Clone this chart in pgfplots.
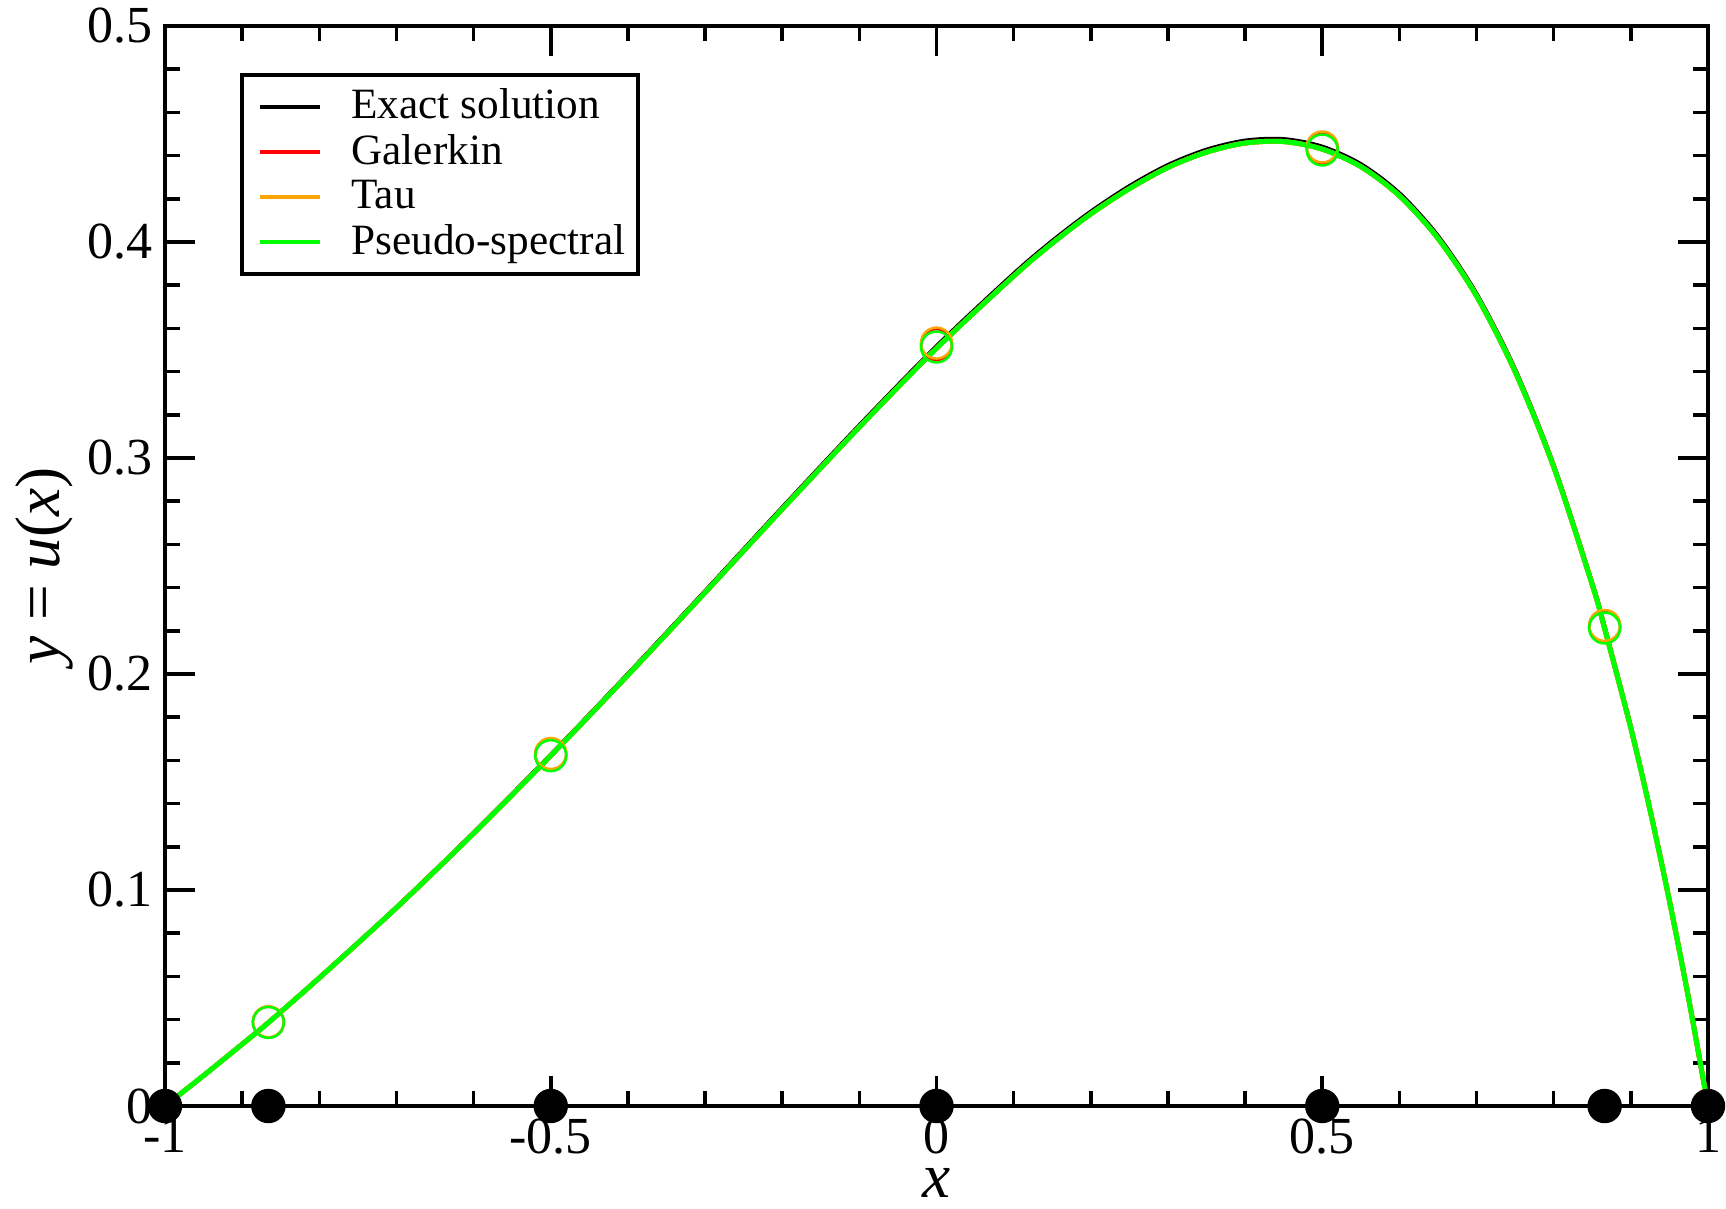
\documentclass[border=0pt]{standalone}
\usepackage{fontspec}
\setmainfont{Liberation Serif}
\usepackage{pgfplots}
\pgfplotsset{compat=1.18}
\usepackage{pgfplotstable}
\definecolor{xred}{RGB}{255,0,0}
\definecolor{xorange}{RGB}{255,165,0}
\definecolor{xgreen}{RGB}{0,255,0}

\pgfplotstableread{
x y
-1 0
-0.95 0.0141
-0.9 0.0287
-0.866 0.0387
-0.8 0.0594
-0.7 0.0920
-0.6 0.1265
-0.5 0.1626
-0.4 0.2000
-0.3 0.2383
-0.2 0.2770
-0.1 0.3151
0 0.3517
0.1 0.3852
0.15 0.4004
0.2 0.4140
0.25 0.4258
0.3 0.4356
0.35 0.4427
0.4 0.4469
0.45 0.4476
0.5 0.4441
0.55 0.4360
0.6 0.4225
0.65 0.4027
0.7 0.3759
0.75 0.3409
0.8 0.2966
0.85 0.2419
0.866 0.2217
0.9 0.1753
0.925 0.1371
0.95 0.0952
0.975 0.0496
1 0
}\exact

\pgfplotstableread{
x y
-1 0
-0.95 0.0141
-0.9 0.0286
-0.866 0.0386
-0.8 0.0593
-0.7 0.0918
-0.6 0.1262
-0.5 0.1622
-0.4 0.1995
-0.3 0.2377
-0.2 0.2763
-0.1 0.3143
0 0.3508
0.1 0.3842
0.15 0.3994
0.2 0.4130
0.25 0.4247
0.3 0.4345
0.35 0.4416
0.4 0.4458
0.45 0.4465
0.5 0.4430
0.55 0.4349
0.6 0.4214
0.65 0.4017
0.7 0.3750
0.75 0.3400
0.8 0.2959
0.85 0.2413
0.866 0.2211
0.9 0.1749
0.925 0.1368
0.95 0.0950
0.975 0.0495
1 0
}\approxsol

\pgfplotstableread{
x y
-0.866 0.0388
-0.5 0.1628
0 0.3525
0.5 0.4435
0.866 0.2220
}\galpts

\pgfplotstableread{
x y
-0.866 0.0390
-0.5 0.1632
0 0.3532
0.5 0.4440
0.866 0.2225
}\taupts

\pgfplotstableread{
x y
-0.866 0.0387
-0.5 0.1622
0 0.3514
0.5 0.4426
0.866 0.2213
}\pspts

\pgfplotstableread{
x y
-1 0
-0.866 0
-0.5 0
0 0
0.5 0
0.866 0
1 0
}\nodes

\begin{document}
\begin{tikzpicture}
\useasboundingbox (-1.65cm,-1.02cm) rectangle (15.61cm,11.06cm);
\begin{axis}[
  scale only axis, width=15.43cm, height=10.80cm,
  xmin=-1, xmax=1, ymin=0, ymax=0.5,
  clip=false,
  axis line style={line width=1.1pt},
  xtick={-1,-0.5,0,0.5,1}, xticklabels={-1,-0.5,0,0.5,1},
  ytick={0,0.1,0.2,0.3,0.4,0.5}, yticklabels={0,0.1,0.2,0.3,0.4,0.5},
  minor x tick num=4, minor y tick num=4,
  tick align=inside, xtick pos=both, ytick pos=both,
  major tick length=0.3cm, minor tick length=0.15cm,
  every tick/.style={line width=1pt, black},
  ticklabel style={font=\fontsize{14.8}{17}\selectfont},
  xlabel={\textit{x}}, ylabel={\textit{y} = \textit{u}(\textit{x})},
  xlabel style={at={(axis description cs:0.5,-0.0713)}, anchor=center, font=\fontsize{18}{20}\selectfont},
  ylabel style={at={(axis description cs:-0.0784,0.5)}, anchor=center, font=\fontsize{18}{20}\selectfont},
  legend style={at={(axis description cs:0.0486,0.9565)}, anchor=north west, draw=black, line width=1.1pt,
    font=\fontsize{12.3}{14}\selectfont, row sep=-1pt, inner xsep=1.6pt, inner ysep=2pt},
  legend cell align=left,
  legend image code/.code={\path (-0.1cm,0cm); \draw[#1, line width=1.1pt] (0cm,0cm) -- (0.60cm,0cm); \path (0.82cm,0cm);},
]
\addplot[black, line width=1.2pt, smooth, tension=0.5] table {\exact};
\addlegendentry{Exact solution}
\addplot[xred, line width=1.4pt, smooth, tension=0.5] table {\approxsol};
\addlegendentry{Galerkin}
\addplot[xorange, line width=1.4pt, smooth, tension=0.5] table {\approxsol};
\addlegendentry{Tau}
\addplot[xgreen, line width=1.4pt, smooth, tension=0.5] table {\approxsol};
\addlegendentry{Pseudo-spectral}
\addplot[xred, only marks, mark=o, mark size=4.4pt, mark options={line width=0.7pt}, forget plot] table {\galpts};
\addplot[xorange, only marks, mark=o, mark size=4.4pt, mark options={line width=0.7pt}, forget plot] table {\taupts};
\addplot[xgreen, only marks, mark=o, mark size=4.4pt, mark options={line width=0.7pt}, forget plot] table {\pspts};
\addplot[black, only marks, mark=*, mark size=4.7pt, forget plot] table {\nodes};
\end{axis}
\end{tikzpicture}
\end{document}
